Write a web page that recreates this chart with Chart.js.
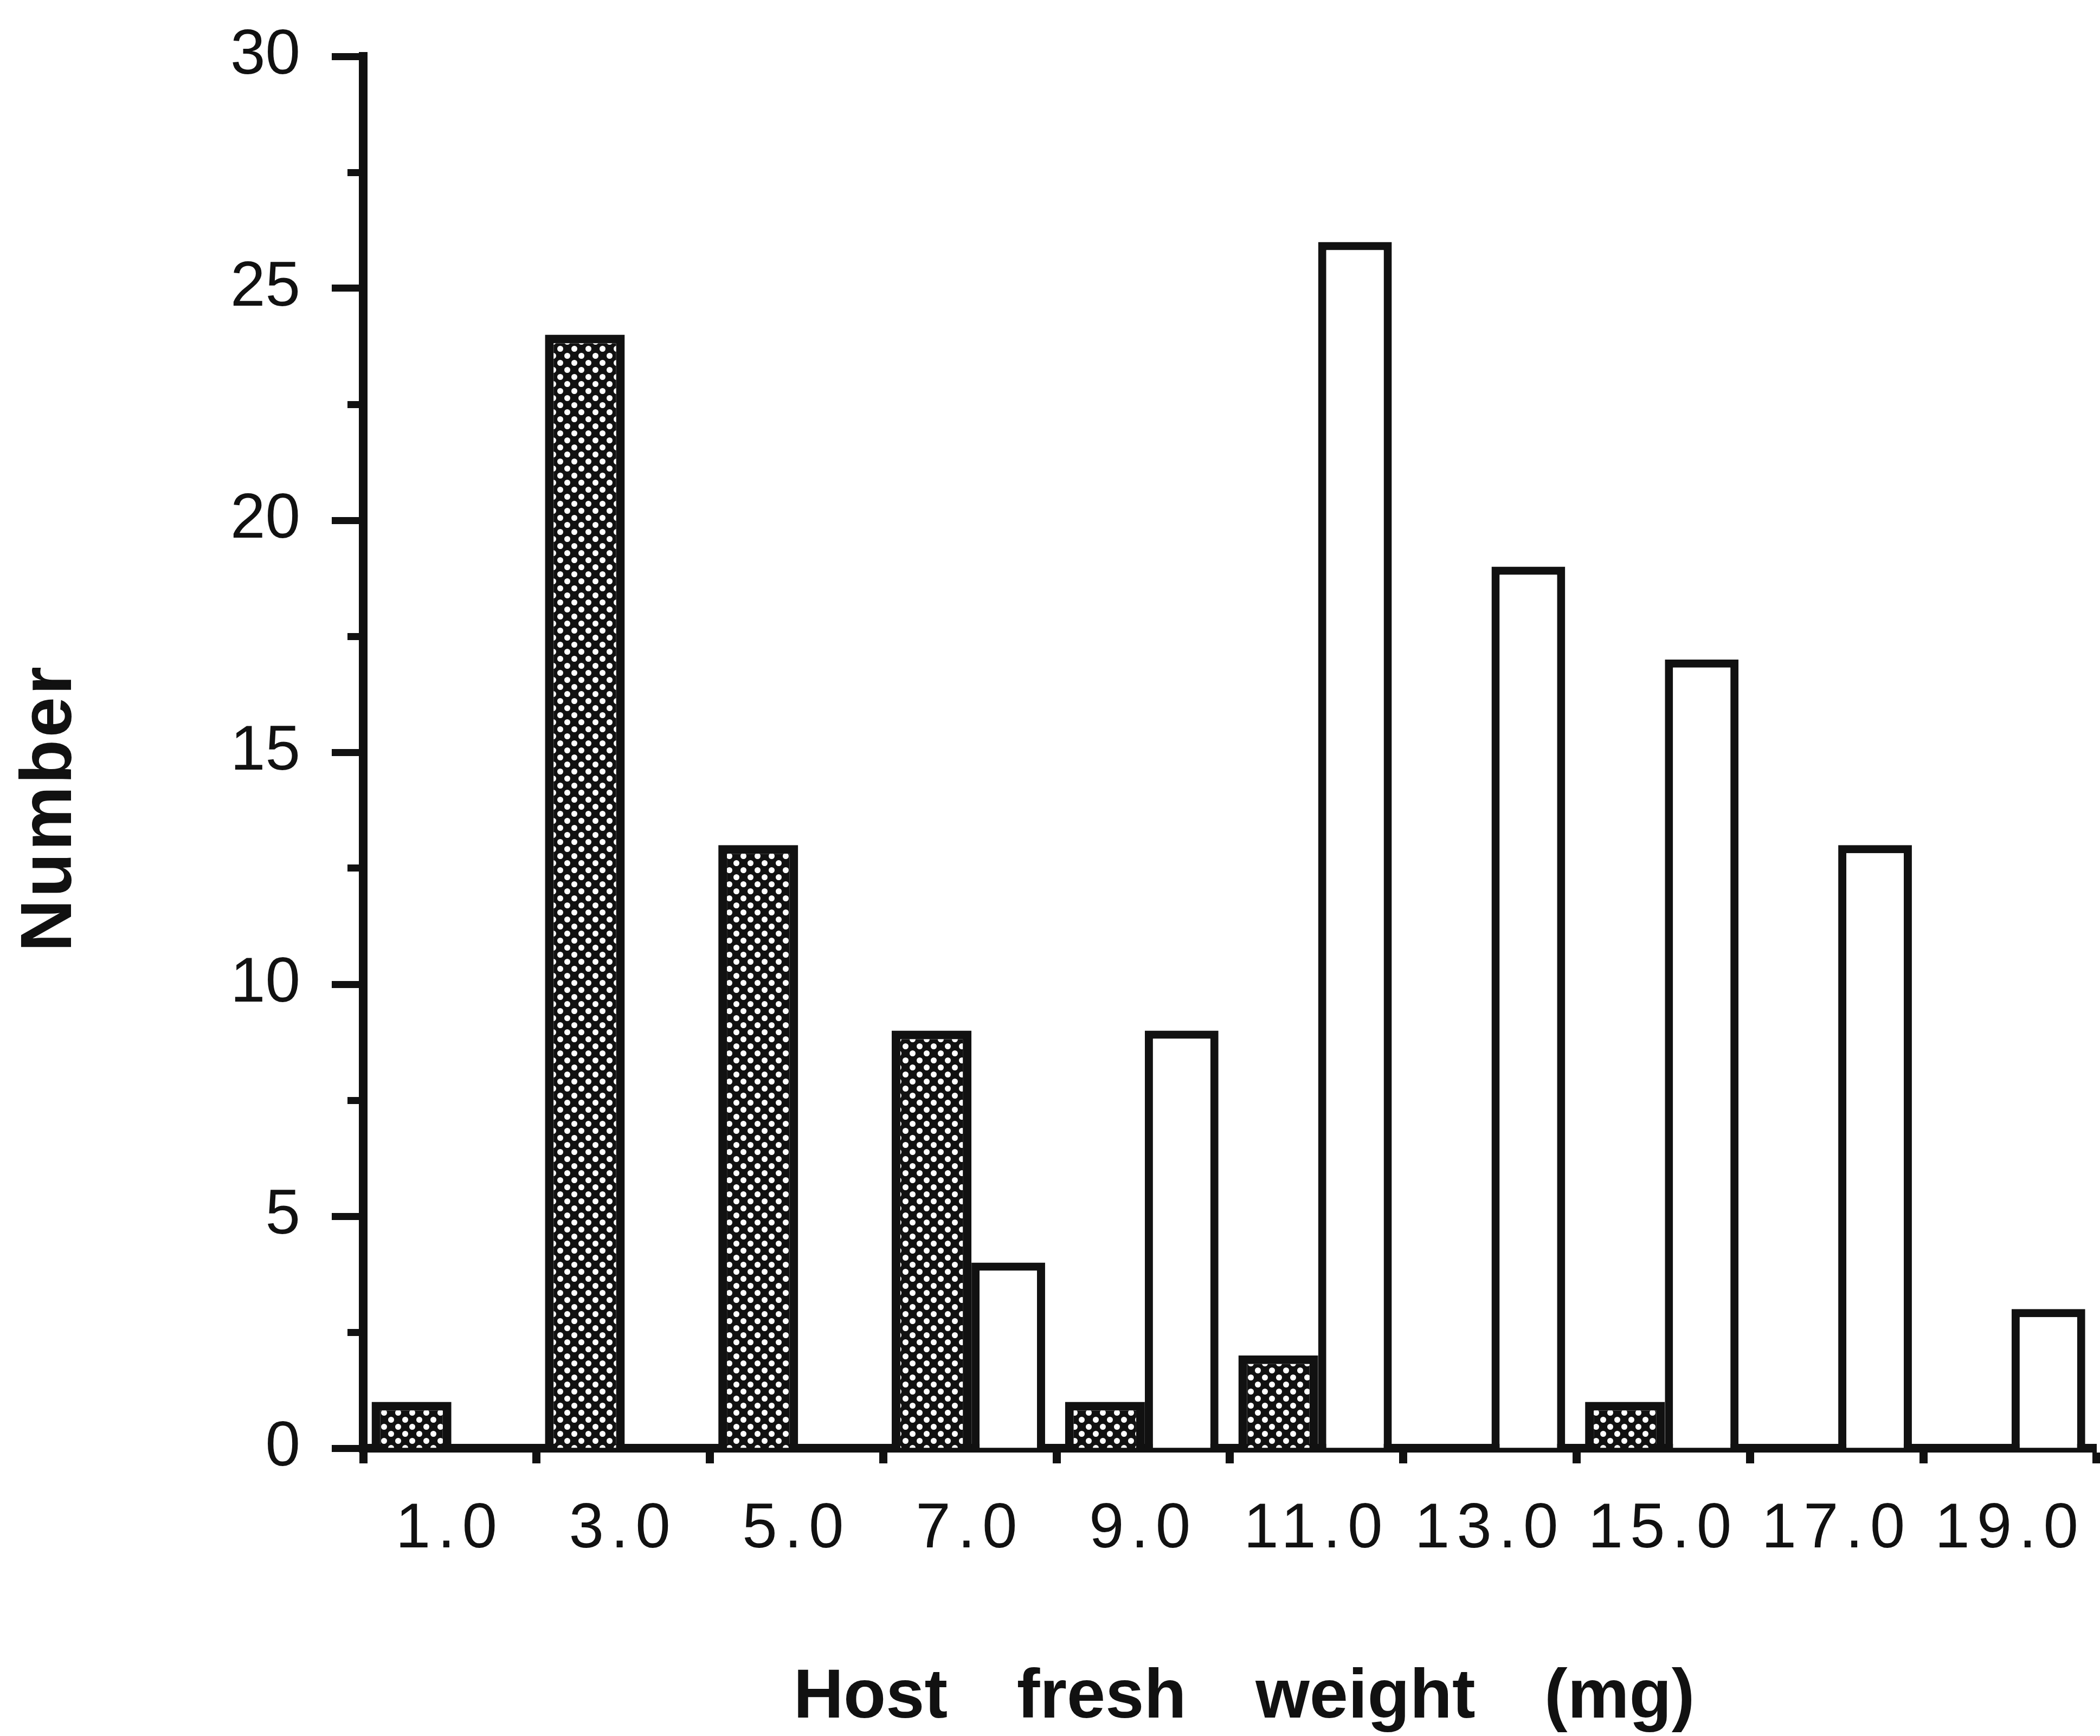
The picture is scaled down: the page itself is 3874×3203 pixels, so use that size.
<!DOCTYPE html>
<html>
<head>
<meta charset="utf-8">
<script src="https://cdn.jsdelivr.net/npm/chart.js@4/dist/chart.umd.min.js"></script>
<style>
  html, body { margin: 0; padding: 0; background: #fff; overflow: hidden; }
  canvas { display: block; }
</style>
</head>
<body>
<canvas id="chart" width="3874" height="3203"></canvas>
<script>
// categories (host fresh weight class, mg)
const weightClasses = ['1.0', '3.0', '5.0', '7.0', '9.0', '11.0', '13.0', '15.0', '17.0', '19.0'];
// shaded bars
const shadedCounts = [1, 24, 13, 9, 1, 2, 0, 1, 0, 0];
// open bars
const openCounts = [0, 0, 0, 4, 9, 26, 19, 17, 13, 3];
// y axis
const yMin = 0;
const yMax = 30;
const yStep = 2.5;
const yTitle = 'Number';
const xTitle = 'Host fresh weight (mg)';

const ink = '#111';

// stippled fill for the shaded bars: black ground with white dots
function makeStipple() {
  const tile = document.createElement('canvas');
  tile.width = 26;
  tile.height = 26;
  const t = tile.getContext('2d');
  t.fillStyle = ink;
  t.fillRect(0, 0, 26, 26);
  t.fillStyle = '#fff';
  [[6.5, 6.5], [19.5, 19.5]].forEach(([x, y]) => {
    t.beginPath();
    t.arc(x, y, 5.5, 0, Math.PI * 2);
    t.fill();
  });
  return document.getElementById('chart').getContext('2d').createPattern(tile, 'repeat');
}

// axis titles drawn by hand so they can sit where the original has them
const axisTitles = {
  id: 'axisTitles',
  afterDatasetsDraw(chart) {
    // x tick labels (ticks.z = 1) are drawn after this, with wider spacing
    chart.ctx.letterSpacing = '13px';
  },
  afterDraw(chart) {
    const { ctx, chartArea } = chart;
    ctx.letterSpacing = '0px';
    ctx.save();
    ctx.fillStyle = ink;
    ctx.textAlign = 'center';
    ctx.textBaseline = 'middle';

    ctx.font = 'bold 128px "Liberation Sans", Arial, sans-serif';
    ctx.wordSpacing = '92px';
    ctx.fillText(xTitle, (chartArea.left + chartArea.right) / 2 + 26, chartArea.bottom + 462);

    ctx.wordSpacing = '0px';
    ctx.letterSpacing = '4px';
    ctx.font = 'bold 134px "Liberation Sans", Arial, sans-serif';
    ctx.translate(94, (chartArea.top + chartArea.bottom) / 2 + 103);
    ctx.rotate(-Math.PI / 2);
    ctx.fillText(yTitle, 0, 0);
    ctx.restore();
    ctx.letterSpacing = '0px';
  }
};

Chart.defaults.font.family = '"Liberation Sans", Arial, sans-serif';
Chart.defaults.color = ink;

const ctx = document.getElementById('chart').getContext('2d');
new Chart(ctx, {
  type: 'bar',
  data: {
    labels: weightClasses,
    datasets: [
      {
        label: 'Shaded',
        data: shadedCounts,
        backgroundColor: makeStipple(),
        borderColor: ink,
        borderWidth: 16,
        barPercentage: 1.04
      },
      {
        label: 'Open',
        data: openCounts,
        backgroundColor: '#fff',
        borderColor: ink,
        borderWidth: 15,
        barPercentage: 0.96
      }
    ]
  },
  options: {
    responsive: false,
    animation: false,
    devicePixelRatio: 1,
    layout: {
      padding: { top: 104, right: 1, left: 0, bottom: 0 }
    },
    datasets: {
      bar: {
        categoryPercentage: 0.885
      }
    },
    scales: {
      x: {
        offset: true,
        afterFit: (scale) => { scale.height = 531; },
        border: { color: ink, width: 16 },
        grid: {
          offset: true,
          drawOnChartArea: false,
          drawTicks: true,
          tickLength: 28,
          tickWidth: 15,
          tickColor: ink
        },
        ticks: {
          z: 1,
          padding: 53,
          maxRotation: 0,
          autoSkip: false,
          font: { size: 116 }
        }
      },
      y: {
        min: yMin,
        max: yMax,
        afterFit: (scale) => {
          scale.width = 670;
          // the top label may overhang; keep the plot top where the original has it
          scale.paddingTop = 0;
          scale.paddingBottom = 0;
        },
        border: { color: ink, width: 16 },
        grid: {
          drawOnChartArea: false,
          drawTicks: true,
          tickLength: 58,
          tickWidth: 13,
          tickColor: ink,
          // minor ticks (every 2.5) are half as long: dash away the outer half
          tickBorderDash: (c) => (c.tick && c.tick.value % 5 !== 0 ? [0, 29, 100] : [])
        },
        ticks: {
          stepSize: yStep,
          padding: 58,
          font: { size: 116 },
          callback: (v) => (v % 5 === 0 ? v : '')
        }
      }
    },
    plugins: {
      legend: { display: false },
      tooltip: { enabled: false },
      title: { display: false }
    }
  },
  plugins: [axisTitles]
});
</script>
</body>
</html>
